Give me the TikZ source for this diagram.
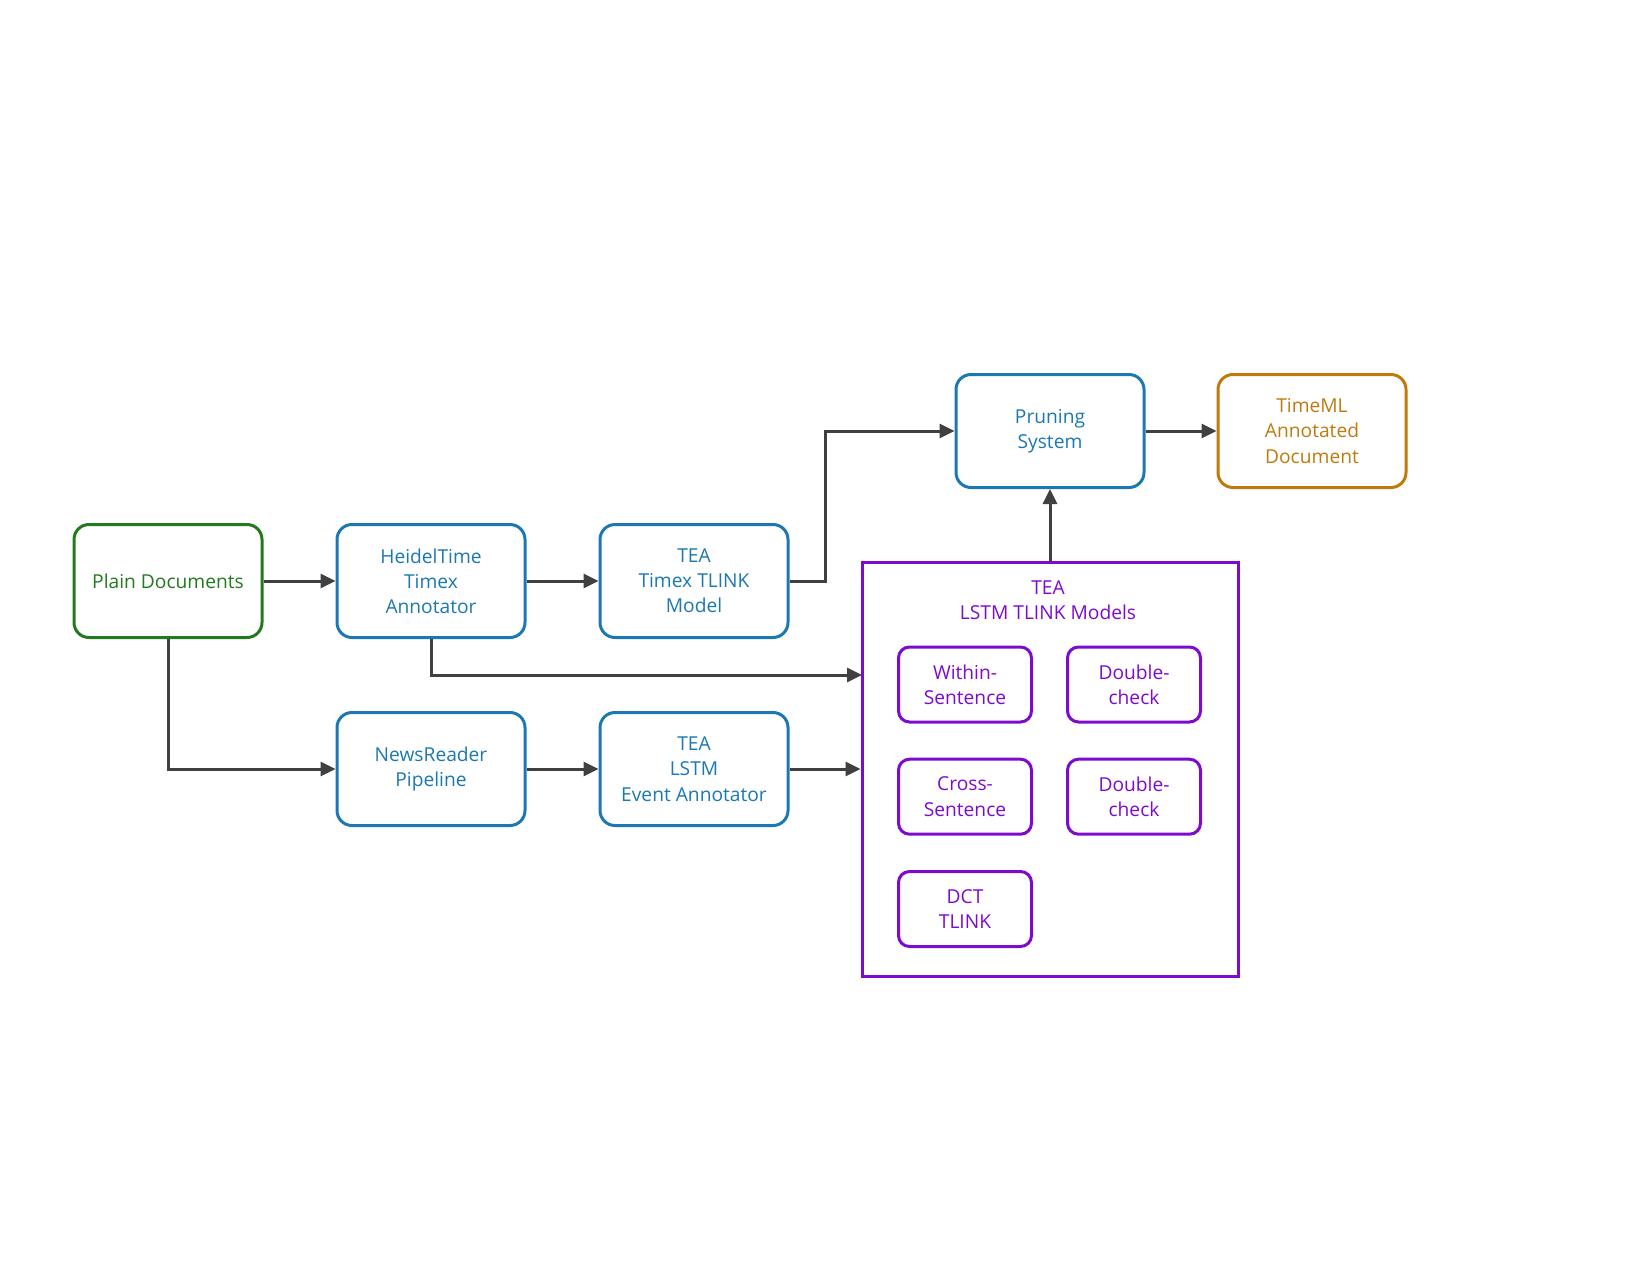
\documentclass[tikz,border=0pt]{standalone}
\usepackage{fontspec}
\setmainfont{Open Sans}
\usetikzlibrary{arrows.meta}
\definecolor{cgreen}{HTML}{237A1E}
\definecolor{cblue}{HTML}{1B78B2}
\definecolor{corange}{HTML}{C07A0C}
\definecolor{cpurple}{HTML}{7E0ACF}
\definecolor{carrow}{HTML}{404040}
\begin{document}
\begin{tikzpicture}[x=0.5pt,y=-0.5pt,
  box/.style={draw, line width=1.5pt, rounded corners=7.5pt, minimum width=94pt, minimum height=56.5pt, align=center, font=\fontsize{9.6}{12.6}\selectfont, inner sep=0pt},
  gbox/.style={box, draw=cgreen, text=cgreen},
  bbox/.style={box, draw=cblue, text=cblue},
  obox/.style={box, draw=corange, text=corange},
  pbox/.style={draw=cpurple, text=cpurple, line width=1.5pt, rounded corners=5.5pt, minimum width=66.5pt, minimum height=37.5pt, align=center, font=\fontsize{9.6}{12.6}\selectfont, inner sep=0pt},
  arr/.style={draw=carrow, line width=1.5pt, -{Triangle[length=7.5pt,width=7pt]}}
]
\useasboundingbox (0,0) rectangle (1650,1275);
\node[gbox] (plain) at (168,581) {Plain Documents};
\node[bbox] (heidel) at (431,581) {HeidelTime\\Timex\\Annotator};
\node[bbox] (ttimex) at (694,581) {TEA\\Timex TLINK\\Model};
\node[bbox] (news) at (431,769) {NewsReader\\Pipeline};
\node[bbox] (tlstm) at (694,769) {TEA\\LSTM\\Event Annotator};
\node[bbox] (prun) at (1050,431) {Pruning\\System};
\node[obox] (timeml) at (1312,431) {TimeML\\Annotated\\Document};
\node[draw=cpurple, line width=1.5pt, minimum width=188pt, minimum height=207pt, inner sep=0pt] (big) at (1050,769) {};
\node[text=cpurple, align=center, font=\fontsize{9.6}{12.6}\selectfont] (title) at (1048,600) {TEA\\LSTM TLINK Models};
\node[pbox] (within) at (965,684.5) {Within-\\Sentence};
\node[pbox] (dc1) at (1134,684.5) {Double-\\check};
\node[pbox] (cross) at (965,796.7) {Cross-\\Sentence};
\node[pbox] (dc2) at (1134,796.7) {Double-\\check};
\node[pbox] (dct) at (965,909) {DCT\\TLINK};
\coordinate (c1) at (825,581);
\coordinate (in1) at (862,675);
\draw[arr] (plain.east) -- (heidel.west);
\draw[arr] (heidel.east) -- (ttimex.west);
\draw[arr] (ttimex.east) -- (c1) |- (prun.west);
\draw[arr] (prun.east) -- (timeml.west);
\draw[arr] (big.north) -- (prun.south);
\draw[arr] (heidel.south) |- (in1);
\draw[arr] (plain.south) |- (news.west);
\draw[arr] (news.east) -- (tlstm.west);
\draw[arr] (tlstm.east) -- (big.west);
\end{tikzpicture}
\end{document}
